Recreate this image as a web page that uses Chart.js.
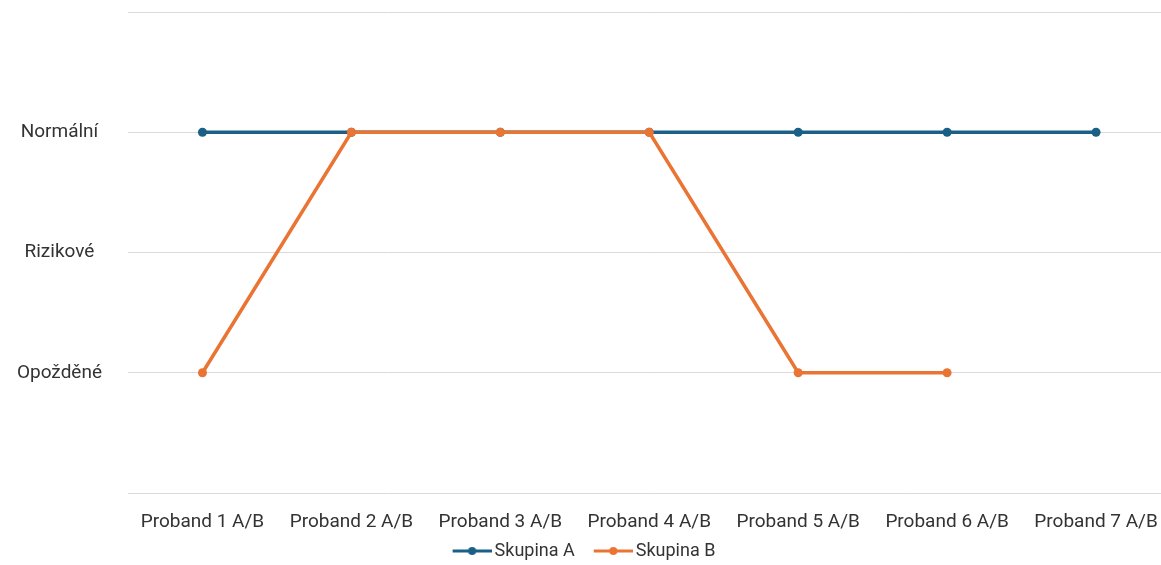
<!DOCTYPE html>
<html>
<head>
<meta charset="utf-8">
<script src="https://cdn.jsdelivr.net/npm/chart.js@4/dist/chart.umd.min.js"></script>
<style>
  html, body { margin: 0; padding: 0; background: #fff; overflow: hidden; }
  #wrap { width: 1161px; height: 565px; overflow: hidden; }
</style>
</head>
<body>
<div id="wrap"><canvas id="c" width="1175" height="565"></canvas></div>
<script>
const categories = ['Proband 1 A/B', 'Proband 2 A/B', 'Proband 3 A/B', 'Proband 4 A/B', 'Proband 5 A/B', 'Proband 6 A/B', 'Proband 7 A/B'];
const levelLabels = { 1: 'Opožděné', 2: 'Rizikové', 3: 'Normální' };
const skupinaA = [3, 3, 3, 3, 3, 3, 3];
const skupinaB = [1, 3, 3, 3, 1, 1, null];

const BLUE = '#1a5f86';
const ORANGE = '#ea7433';
const TEXT = '#333333';
const FONT = 'Roboto, "Liberation Sans", sans-serif';

// Legend marker: a short line with a dot in the middle, drawn in the right part
// of a wider transparent image so that items sit further apart.
function legendMarker(color) {
  const c = document.createElement('canvas');
  c.width = 56; c.height = 10;
  const g = c.getContext('2d');
  g.strokeStyle = color; g.lineWidth = 3;
  g.beginPath(); g.moveTo(17, 5); g.lineTo(56, 5); g.stroke();
  g.fillStyle = color;
  g.beginPath(); g.arc(36.5, 5, 4, 0, Math.PI * 2); g.fill();
  return c;
}

// The legend row is centred on the visible page width rather than the full canvas.
const legendCentre = {
  id: 'legendCentre',
  afterLayout(chart) {
    if (chart.legend) chart.legend.right -= 14;
  }
};

new Chart(document.getElementById('c'), {
  type: 'line',
  plugins: [legendCentre],
  data: {
    labels: categories,
    datasets: [
      { label: 'Skupina A', data: skupinaA, borderColor: BLUE, backgroundColor: BLUE, order: 2,
        borderWidth: 3.5, pointRadius: 4.5, pointHoverRadius: 4.5, pointBorderWidth: 0, pointStyle: 'circle' },
      { label: 'Skupina B', data: skupinaB, borderColor: ORANGE, backgroundColor: ORANGE, order: 1,
        borderWidth: 3.5, pointRadius: 4.5, pointHoverRadius: 4.5, pointBorderWidth: 0, pointStyle: 'circle' }
    ]
  },
  options: {
    responsive: false,
    animation: false,
    layout: { padding: { top: 12, right: 4, bottom: -5, left: 0 } },
    plugins: {
      tooltip: { enabled: false },
      legend: {
        position: 'bottom',
        labels: {
          usePointStyle: true,
          pointStyleWidth: 44,
          padding: 8,
          color: TEXT,
          font: { family: FONT, size: 18 },
          generateLabels(chart) {
            return chart.data.datasets.map((ds, i) => ({
              text: ds.label,
              pointStyle: legendMarker(ds.borderColor),
              fillStyle: ds.borderColor,
              strokeStyle: ds.borderColor,
              lineWidth: 0,
              fontColor: TEXT,
              hidden: false,
              datasetIndex: i
            }));
          }
        }
      }
    },
    scales: {
      x: {
        offset: true,
        afterFit(scale) { scale.height = 41; scale.paddingLeft = 0; scale.paddingRight = 0; },
        grid: { display: false, drawTicks: false },
        border: { display: false },
        ticks: { color: TEXT, font: { family: FONT, size: 19 }, padding: 18, maxRotation: 0, autoSkip: false }
      },
      y: {
        min: 0, max: 4,
        afterFit(scale) { scale.width = 128; scale.paddingTop = 0; scale.paddingBottom = 0; },
        grid: { color: '#d9d9d9', lineWidth: 1, drawTicks: false },
        border: { display: false },
        ticks: {
          stepSize: 1,
          padding: 26,
          crossAlign: 'center',
          color: TEXT,
          font: { family: FONT, size: 19 },
          callback: v => levelLabels[v] || ''
        }
      }
    }
  }
});
</script>
</body>
</html>
